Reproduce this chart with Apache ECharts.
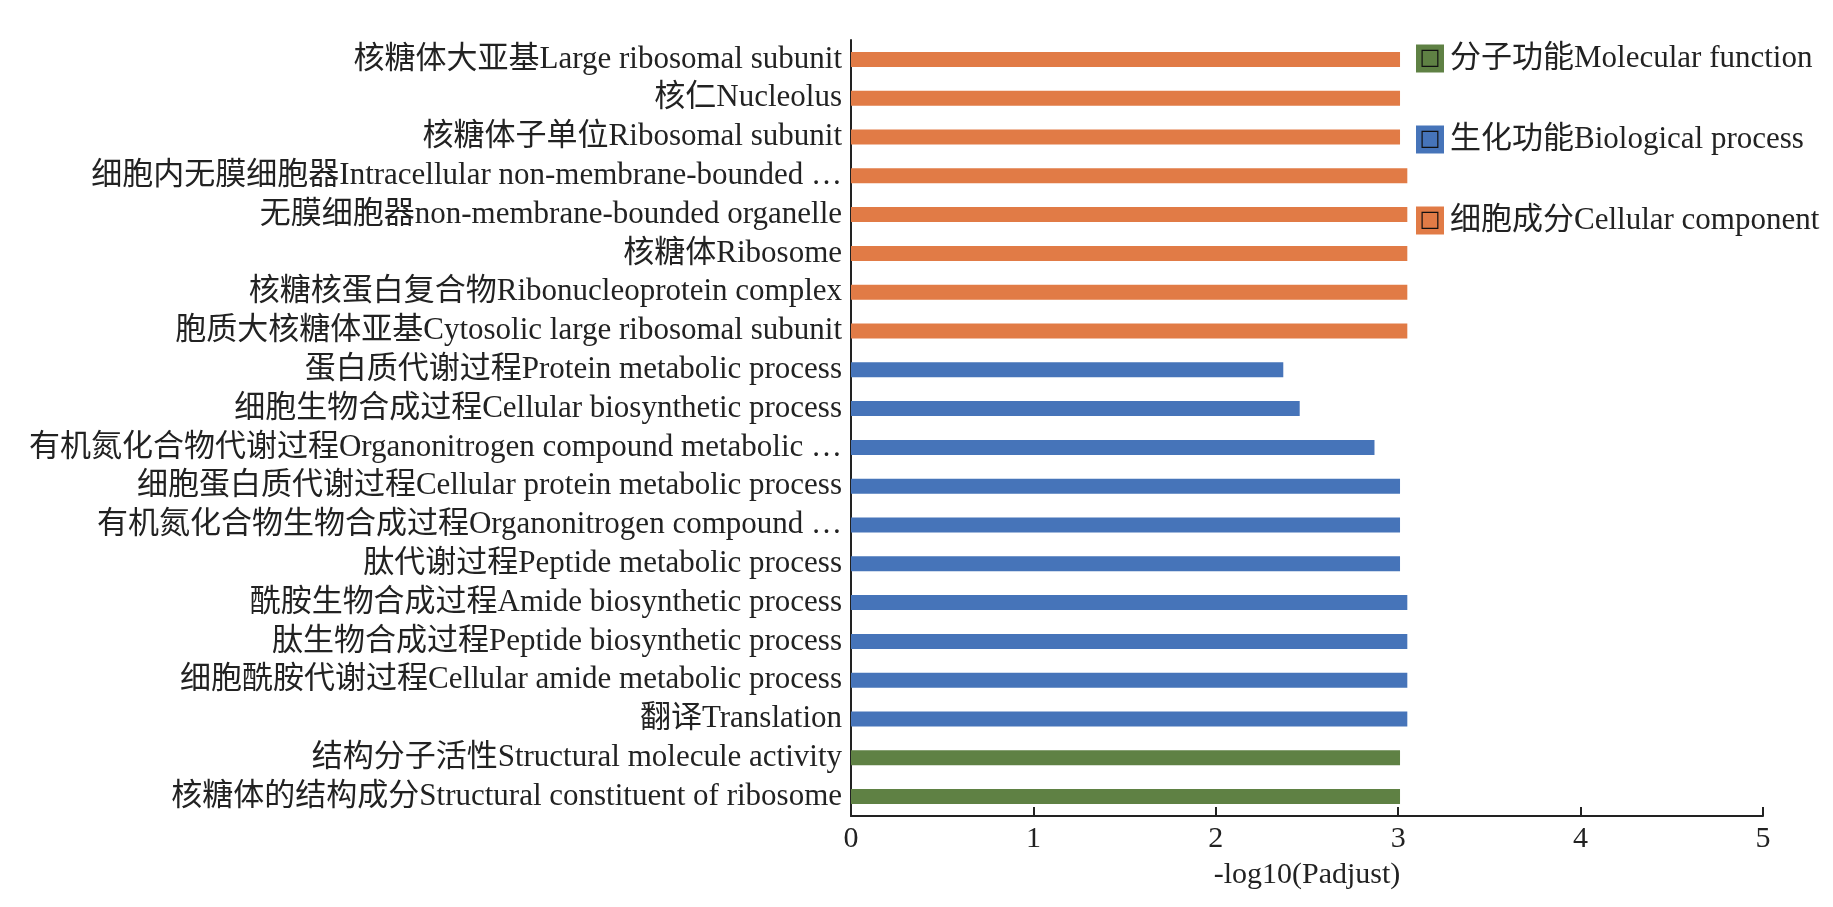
<!DOCTYPE html>
<html>
<head>
<meta charset="utf-8">
<script src="https://cdn.jsdelivr.net/npm/echarts@6/dist/echarts.min.js"></script>
<style>html,body{margin:0;padding:0;background:#fff}#c{width:1833px;height:907px}</style>
</head>
<body>
<div id="c"></div>
<script>
// Categories, top to bottom
const categories = [
  "核糖体大亚基Large ribosomal subunit",
  "核仁Nucleolus",
  "核糖体子单位Ribosomal subunit",
  "细胞内无膜细胞器Intracellular non-membrane-bounded …",
  "无膜细胞器non-membrane-bounded organelle",
  "核糖体Ribosome",
  "核糖核蛋白复合物Ribonucleoprotein complex",
  "胞质大核糖体亚基Cytosolic large ribosomal subunit",
  "蛋白质代谢过程Protein metabolic process",
  "细胞生物合成过程Cellular biosynthetic process",
  "有机氮化合物代谢过程Organonitrogen compound metabolic …",
  "细胞蛋白质代谢过程Cellular protein metabolic process",
  "有机氮化合物生物合成过程Organonitrogen compound …",
  "肽代谢过程Peptide metabolic process",
  "酰胺生物合成过程Amide biosynthetic process",
  "肽生物合成过程Peptide biosynthetic process",
  "细胞酰胺代谢过程Cellular amide metabolic process",
  "翻译Translation",
  "结构分子活性Structural molecule activity",
  "核糖体的结构成分Structural constituent of ribosome"
];
const values = [3.01, 3.01, 3.01, 3.05, 3.05, 3.05, 3.05, 3.05,
                2.37, 2.46, 2.87, 3.01, 3.01, 3.01, 3.05, 3.05, 3.05, 3.05,
                3.01, 3.01];
const groups = ["CC","CC","CC","CC","CC","CC","CC","CC",
                "BP","BP","BP","BP","BP","BP","BP","BP","BP","BP",
                "MF","MF"];
const seriesNames = {
  MF: "分子功能Molecular function",
  BP: "生化功能Biological process",
  CC: "细胞成分Cellular component"
};
const seriesOrder = ["MF", "BP", "CC"];
const colors = { MF: "#5F8144", BP: "#4674B9", CC: "#E17B46" };
const xTicks = [0, 1, 2, 3, 4, 5];

const FONT = '"Liberation Serif", "Times New Roman", "Noto Sans CJK SC", serif';

const series = seriesOrder.map(k => ({
  name: seriesNames[k],
  type: 'bar',
  stack: 'all',
  barWidth: 15,
  itemStyle: { color: colors[k] },
  data: values.map((v, i) => groups[i] === k ? v : null)
}));

const rich = {};
seriesOrder.forEach(k => {
  rich[k] = {
    backgroundColor: colors[k], color: '#111', fontSize: 22,
    width: 28, height: 28, align: 'center', lineHeight: 28,
    fontFamily: 'DejaVu Sans'
  };
  rich[k + 't'] = { fontSize: 31, fontFamily: FONT, color: '#222', padding: [0, 0, 0, 6] };
});
const nameToKey = {};
seriesOrder.forEach(k => nameToKey[seriesNames[k]] = k);

const chart = echarts.init(document.getElementById('c'));
chart.setOption({
  animation: false,
  backgroundColor: '#fff',
  textStyle: { fontFamily: FONT },
  grid: { left: 851, right: 70, top: 40, bottom: 91, containLabel: false },
  legend: {
    orient: 'vertical',
    left: 1406,
    top: 38,
    itemGap: 50,
    itemWidth: 0,
    itemHeight: 0,
    icon: 'rect',
    data: seriesOrder.map(k => seriesNames[k]),
    formatter: name => {
      const k = nameToKey[name];
      return '{' + k + '|□}{' + k + 't|' + name + '}';
    },
    textStyle: { rich: rich, fontFamily: FONT }
  },
  xAxis: {
    type: 'value',
    min: xTicks[0],
    max: xTicks[xTicks.length - 1],
    interval: 1,
    name: '-log10(Padjust)',
    nameLocation: 'middle',
    nameGap: 44,
    nameTextStyle: { fontSize: 30, color: '#222', fontFamily: FONT },
    axisLine: { show: true, lineStyle: { color: '#222', width: 2 } },
    axisTick: { show: true, inside: true, length: 9, lineStyle: { color: '#222', width: 2 } },
    axisLabel: { fontSize: 30, color: '#222', margin: 8, fontFamily: FONT },
    splitLine: { show: false }
  },
  yAxis: {
    type: 'category',
    inverse: true,
    data: categories,
    axisLine: { show: true, lineStyle: { color: '#222', width: 2 } },
    axisTick: { show: false },
    axisLabel: { fontSize: 31, color: '#222', margin: 9, fontFamily: FONT, interval: 0 },
    splitLine: { show: false }
  },
  series: series
});
</script>
</body>
</html>
